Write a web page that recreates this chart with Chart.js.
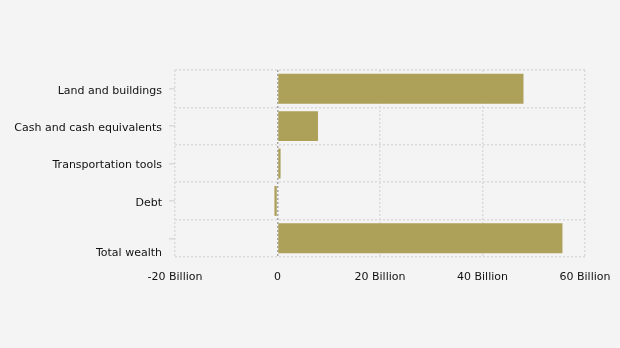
<!DOCTYPE html>
<html><head><meta charset="utf-8">
<script src="https://cdn.jsdelivr.net/npm/chart.js@4"></script>
<style>html,body{margin:0;padding:0;background:#f4f4f4;}#wrap{width:620px;height:348px;}</style>
</head><body><div id="wrap"><canvas id="c" width="620" height="348"></canvas></div>
<script>
const categories = ["Land and buildings", "Cash and cash equivalents", "Transportation tools", "Debt", ["", "", "Total wealth"]];
const values = [48.0e9, 7.9e9, 0.6e9, -0.6e9, 55.6e9];
const xMin = -20e9, xMax = 60e9, xStep = 20e9;
const tickText = v => v === 0 ? "0" : (v / 1e9) + " Billion";

const FONT = "DejaVu Sans";
new Chart(document.getElementById('c'), {
  type: 'bar',
  data: {
    labels: categories,
    datasets: [{
      data: values,
      backgroundColor: 'rgb(173,161,90)',
      borderWidth: 0,
      barPercentage: 1,
      categoryPercentage: 0.8,
      yAxisID: 'y'
    }]
  },
  options: {
    indexAxis: 'y',
    responsive: false,
    animation: false,
    maintainAspectRatio: false,
    layout: { padding: { left: 0, top: 70, right: 35, bottom: 0 } },
    plugins: { legend: { display: false }, tooltip: { enabled: false } },
    scales: {
      x: {
        type: 'linear', min: xMin, max: xMax,
        afterFit: s => { s.height = 91; s.paddingLeft = 0; s.paddingRight = 0; },
        ticks: { stepSize: xStep, callback: v => tickText(v), color: '#111', font: { family: FONT, size: 11 }, padding: 14, maxRotation: 0, autoSkip: false },
        grid: {
          drawTicks: false,
          color: c => (c.tick && c.tick.value === 0) ? '#a8a8a8' : '#dadada',
          lineWidth: 1.5
        },
        border: { display: false, dash: [2, 2] }
      },
      y: {
        type: 'category', position: 'left',
        afterFit: s => { s.width = 175; s.paddingTop = 0; s.paddingBottom = 0; },
        ticks: { color: '#111', font: { family: FONT, size: 11 }, padding: 7, autoSkip: false, labelOffset: 2 },
        grid: { offset: false, drawOnChartArea: false, tickLength: 6, color: '#dadada', lineWidth: 1.5 },
        border: { display: false }
      },
      y2: {
        type: 'category', position: 'right', labels: categories, offset: true,
        afterFit: s => { s.width = 0; s.paddingTop = 0; s.paddingBottom = 0; },
        ticks: { display: false },
        grid: { offset: true, drawTicks: false, color: '#dadada', lineWidth: 1.5 },
        border: { display: false, dash: [2, 2] }
      }
    }
  }
});
</script></body></html>
